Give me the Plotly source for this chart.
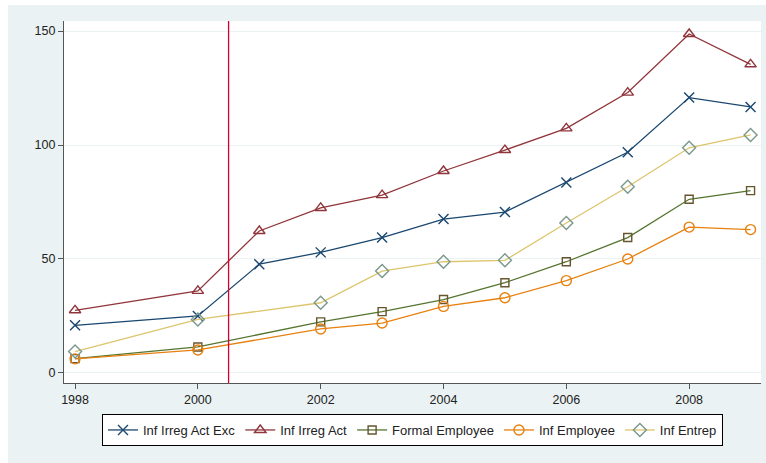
import plotly.graph_objects as go

years = [1998, 2000, 2001, 2002, 2003, 2004, 2005, 2006, 2007, 2008, 2009]
inf_irreg_act_exc = [20.9, 25.0, 47.7, 52.9, 59.4, 67.5, 70.6, 83.6, 96.8, 120.8, 116.7]
inf_irreg_act = [27.5, 36.0, 62.3, 72.4, 78.0, 88.6, 97.8, 107.3, 123.0, 148.7, 135.4]
formal_employee = [6.3, 11.4, None, 22.4, 26.9, 32.2, 39.6, 48.8, 59.4, 76.2, 80.0]
inf_employee = [6.2, 10.1, None, 19.3, 21.9, 29.2, 33.0, 40.5, 50.0, 64.0, 62.9]
inf_entrep = [9.4, 23.5, None, 30.8, 44.7, 48.8, 49.4, 65.8, 81.7, 98.8, 104.4]
event_year = [2000.5]
x_ticks = [1998, 2000, 2002, 2004, 2006, 2008]
y_ticks = [0, 50, 100, 150]

BG = "#EAF2F3"
FONT = "Liberation Sans, Arial, sans-serif"

fig = go.Figure()

series = [
    ("Inf Irreg Act Exc", inf_irreg_act_exc, "#1A476F", "#1A476F", "x-thin-open", 10),
    ("Inf Irreg Act", inf_irreg_act, "#90353B", "#90353B", "triangle-up-open", 10),
    ("Formal Employee", formal_employee, "#55752F", "#66552E", "square-open", 8),
    ("Inf Employee", inf_employee, "#E8800F", "#E8800F", "circle-open", 10),
    ("Inf Entrep", inf_entrep, "#DCC56C", "#7A988C", "diamond-open", 10),
]
for name, vals, lc, mc, sym, sz in series:
    fig.add_trace(go.Scatter(
        x=years, y=vals, name=name, mode="lines+markers", connectgaps=True,
        line=dict(color=lc, width=1.3),
        marker=dict(symbol=sym, size=sz, color=mc, line=dict(color=mc, width=1.4)),
    ))

for ev in event_year:
    fig.add_shape(type="line", xref="x", yref="paper", x0=ev, x1=ev, y0=0, y1=1,
                  line=dict(color="#D9002F", width=1.3), layer="above")

# white strips top/left outside the Stata background region
fig.add_shape(type="rect", xref="paper", yref="paper", x0=-64/697, x1=-56/697,
              y0=-80/362, y1=1 + 21/362, fillcolor="white", line=dict(width=0), layer="below")
fig.add_shape(type="rect", xref="paper", yref="paper", x0=-64/697, x1=1 + 5/697,
              y0=1 + 16/362, y1=1 + 21/362, fillcolor="white", line=dict(width=0), layer="below")

fig.update_layout(
    width=766, height=463,
    margin=dict(l=64, r=5, t=21, b=80),
    paper_bgcolor=BG, plot_bgcolor="white",
    font=dict(family=FONT, size=12.5, color="#222222"),
    showlegend=True,
    legend=dict(orientation="h", x=0.5, xanchor="center", y=-31/362, yanchor="top",
                bgcolor="white", bordercolor="#000000", borderwidth=1,
                font=dict(family=FONT, size=13, color="#222222"),
                itemwidth=30, tracegroupgap=0),
    xaxis=dict(range=[1997.82, 2009.17], tickvals=x_ticks, showgrid=False, zeroline=False,
               showline=True, linecolor="#555555", linewidth=1.2, ticks="outside",
               ticklen=5, tickcolor="#555555", tickfont=dict(size=12.5, color="#222222")),
    yaxis=dict(range=[-4.4, 154.4], tickvals=y_ticks, showgrid=True, gridcolor=BG, gridwidth=1,
               zeroline=False, showline=True, linecolor="#555555", linewidth=1.2,
               ticks="outside", ticklen=5, tickcolor="#555555",
               tickfont=dict(size=12.5, color="#222222")),
)

fig.write_html("out.html")
